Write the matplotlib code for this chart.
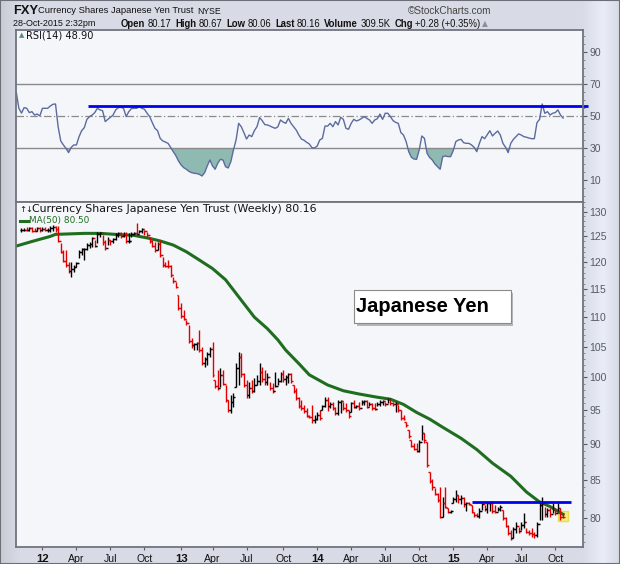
import matplotlib
matplotlib.use('Agg')
import matplotlib.pyplot as plt
import numpy as np
import pandas as pd
from matplotlib.collections import LineCollection
from matplotlib.patches import Rectangle
from matplotlib.lines import Line2D
from matplotlib.ticker import FixedLocator, NullFormatter

# ---------------- data ----------------
start_week = '2011-11-07'   # Monday of first weekly bar

opens = [126.3, 126.2, 126.3, 126.2, 126.6, 126.1, 126.0, 126.6, 126.2, 126.4,
         126.2, 126.3, 126.6, 126.8, 126.4, 124.0, 122.0, 120.3, 119.5, 118.3,
         118.8, 119.0, 119.8, 122.0, 122.5, 122.6, 123.4, 123.6, 124.6, 123.2,
         125.4, 125.6, 123.8, 122.8, 124.3, 124.1, 124.5, 125.3, 125.6, 125.0,
         125.4, 124.0, 124.1, 125.4, 125.6, 125.4, 126.1, 126.5, 126.0, 125.2,
         124.0, 123.2, 122.3, 123.5, 121.3, 119.4, 119.3, 119.2, 117.5, 116.4,
         113.9, 111.6, 110.2, 109.6, 108.9, 106.0, 105.2, 105.4, 105.6, 104.4,
         102.3, 102.9, 103.7, 104.6, 99.6, 98.6, 98.3, 100.3, 99.0, 96.5,
         95.0, 96.2, 98.5, 101.5, 103.3, 100.6, 98.8, 97.2, 98.3, 97.9,
         98.8, 99.5, 100.9, 99.7, 99.2, 100.0, 98.3, 97.8, 98.7, 99.5,
         100.5, 99.7, 100.0, 100.5, 98.8, 97.8, 96.8, 95.5, 95.2, 94.8,
         94.1, 93.9, 93.4, 93.6, 94.2, 95.0, 95.5, 96.5, 95.5, 95.9,
         95.3, 94.5, 96.2, 96.3, 95.2, 95.0, 94.7, 96.0, 95.4, 95.6,
         95.3, 96.1, 96.3, 95.4, 95.9, 95.3, 95.1, 95.9, 96.2, 96.4,
         95.8, 96.6, 96.0, 95.8, 95.9, 95.0, 93.7, 93.2, 92.0, 90.6,
         89.7, 89.3, 89.0, 90.2, 91.5, 90.3, 86.1, 84.9, 84.0, 83.2,
         82.3, 80.2, 82.0, 81.3, 80.8, 82.0, 82.5, 83.0, 82.5, 82.6,
         81.8, 81.9, 81.7, 80.8, 80.4, 80.3, 80.9, 81.8, 81.2, 81.9,
         82.0, 80.9, 80.8, 81.2, 81.1, 80.0, 79.0, 78.2, 77.6, 78.6,
         79.0, 78.4, 79.2, 79.5, 78.3, 78.1, 78.0, 77.9, 79.3, 81.7,
         81.9, 80.6, 81.0, 80.6, 81.2, 80.7, 81.3, 80.17]
highs = [126.7, 126.7, 126.8, 126.9, 126.9, 126.7, 126.9, 126.8, 126.8, 126.9,
         126.7, 127.0, 127.2, 127.0, 127.0, 123.7, 122.4, 122.4, 120.0, 120.0,
         119.5, 120.0, 122.4, 122.8, 122.8, 123.7, 123.9, 124.9, 124.3, 125.9,
         125.9, 125.3, 124.3, 124.9, 124.3, 124.7, 125.7, 125.9, 125.9, 125.9,
         125.9, 125.7, 125.9, 125.9, 127.7, 126.3, 126.7, 126.3, 125.9, 124.9,
         124.3, 123.9, 123.9, 124.3, 121.0, 120.0, 120.4, 119.5, 117.2, 116.3,
         113.9, 112.5, 111.3, 109.5, 108.7, 106.4, 105.6, 105.8, 107.8, 105.0,
         103.3, 104.1, 105.0, 105.8, 99.6, 101.2, 101.5, 101.2, 98.8, 96.5,
         97.3, 97.6, 102.3, 104.1, 103.9, 100.7, 99.6, 99.3, 99.6, 99.9,
         100.4, 102.3, 101.7, 101.2, 100.7, 99.3, 99.1, 100.9, 99.9, 100.9,
         101.1, 100.4, 100.7, 100.7, 98.8, 98.3, 97.0, 96.5, 95.7, 95.2,
         94.2, 95.7, 94.2, 94.7, 95.0, 95.7, 97.0, 97.0, 96.2, 96.2,
         95.4, 96.5, 96.5, 96.2, 96.0, 95.0, 96.2, 96.5, 95.7, 96.2,
         96.5, 96.5, 96.5, 96.2, 96.0, 96.0, 96.2, 96.5, 96.5, 96.2,
         96.8, 96.5, 96.2, 96.2, 95.7, 95.0, 94.2, 93.2, 92.0, 90.6,
         90.1, 90.1, 90.6, 92.8, 91.6, 90.3, 86.1, 85.2, 83.9, 83.3,
         84.0, 82.8, 84.0, 81.3, 81.0, 82.8, 83.7, 83.0, 83.0, 82.8,
         82.1, 82.1, 81.7, 80.8, 80.7, 81.3, 82.0, 81.7, 82.1, 82.1,
         82.0, 81.7, 81.5, 81.7, 81.1, 80.2, 79.2, 78.5, 78.9, 79.5,
         78.9, 79.5, 80.7, 78.8, 78.5, 78.8, 78.3, 79.5, 82.1, 82.8,
         81.5, 81.3, 81.3, 82.0, 81.3, 82.0, 81.3, 80.67]
lows = [125.9, 126.1, 126.1, 126.1, 125.9, 126.0, 126.1, 125.9, 126.0, 126.0,
        125.9, 125.8, 126.0, 125.8, 123.8, 121.8, 120.0, 119.1, 117.9, 117.2,
        118.1, 119.1, 120.8, 121.4, 120.4, 122.4, 122.8, 123.0, 123.0, 123.7,
        124.9, 123.3, 122.4, 123.3, 123.3, 123.7, 124.3, 124.9, 124.7, 124.9,
        123.7, 123.7, 124.9, 125.3, 125.3, 125.7, 125.7, 125.3, 124.9, 123.7,
        123.0, 122.0, 122.4, 121.0, 119.1, 119.1, 118.9, 117.2, 116.1, 115.2,
        111.3, 109.9, 109.5, 108.7, 105.6, 104.8, 104.4, 104.4, 104.1, 102.0,
        101.7, 102.0, 103.3, 100.1, 98.4, 98.0, 98.5, 98.8, 96.2, 94.7,
        94.5, 95.4, 98.5, 98.8, 100.1, 98.5, 96.8, 96.8, 97.6, 97.7,
        98.8, 98.8, 99.3, 98.8, 98.8, 98.0, 97.6, 98.5, 98.8, 99.3,
        99.3, 98.8, 99.1, 99.1, 97.6, 96.5, 95.2, 95.0, 94.5, 93.9,
        93.8, 93.1, 93.1, 93.5, 93.5, 95.0, 95.4, 94.8, 95.2, 95.0,
        94.2, 94.2, 94.5, 95.0, 94.7, 93.8, 94.7, 95.2, 95.2, 95.0,
        95.7, 95.7, 95.2, 95.5, 95.0, 95.0, 95.5, 95.5, 95.7, 95.6,
        96.0, 95.7, 95.6, 94.7, 94.7, 93.5, 93.5, 92.5, 90.9, 89.5,
        89.2, 88.8, 88.9, 90.6, 90.1, 86.8, 84.6, 83.7, 83.0, 82.1,
        80.0, 80.2, 81.3, 80.7, 80.7, 82.0, 82.1, 82.0, 81.8, 81.5,
        80.9, 81.7, 80.7, 80.2, 80.2, 80.0, 81.1, 80.9, 80.7, 80.9,
        80.7, 80.7, 80.9, 80.9, 79.8, 78.9, 77.9, 77.3, 77.5, 78.2,
        78.2, 78.5, 78.8, 78.2, 77.9, 77.7, 77.5, 77.7, 79.8, 79.8,
        80.2, 80.2, 80.2, 80.7, 80.4, 80.9, 79.8, 80.06]
closes = [126.2, 126.3, 126.2, 126.6, 126.1, 126.0, 126.6, 126.2, 126.4, 126.2,
          126.3, 126.6, 126.8, 126.4, 124.0, 122.0, 120.3, 119.5, 118.3, 118.8,
          119.0, 119.8, 122.0, 122.5, 122.6, 123.4, 123.6, 124.6, 123.2, 125.4,
          125.6, 123.8, 122.8, 124.3, 124.1, 124.5, 125.3, 125.6, 125.0, 125.4,
          124.0, 124.1, 125.4, 125.6, 125.4, 126.1, 126.5, 126.0, 125.2, 124.0,
          123.2, 122.3, 123.5, 121.3, 119.4, 119.3, 119.2, 117.5, 116.4, 115.4,
          111.6, 110.2, 109.6, 108.9, 106.0, 105.2, 105.4, 105.6, 104.4, 102.3,
          102.9, 103.7, 104.6, 100.4, 98.6, 98.3, 100.3, 99.0, 96.5, 95.0,
          96.2, 97.0, 101.5, 103.3, 100.6, 98.8, 97.2, 98.3, 97.9, 98.8,
          99.5, 100.9, 99.7, 99.2, 100.0, 98.3, 97.8, 98.7, 99.5, 100.5,
          99.7, 100.0, 100.5, 99.4, 97.8, 96.8, 95.5, 95.2, 94.8, 94.1,
          93.9, 93.4, 93.6, 94.2, 93.8, 95.5, 96.5, 95.5, 95.9, 95.3,
          94.5, 96.2, 96.3, 95.2, 95.0, 94.0, 96.0, 95.4, 95.6, 95.3,
          96.1, 96.3, 95.4, 95.9, 95.3, 95.1, 95.9, 96.2, 96.4, 95.8,
          96.6, 96.0, 95.8, 95.9, 95.0, 93.7, 93.6, 92.7, 91.1, 89.7,
          89.3, 89.0, 90.2, 91.5, 90.5, 87.0, 84.9, 84.0, 83.2, 82.3,
          80.2, 82.0, 81.5, 80.8, 80.9, 82.5, 83.0, 82.5, 82.6, 81.8,
          81.9, 81.8, 81.0, 80.4, 80.3, 80.9, 81.8, 81.2, 81.9, 82.0,
          80.9, 80.8, 81.2, 81.4, 80.0, 79.0, 78.2, 77.6, 78.6, 79.0,
          78.4, 79.2, 79.5, 78.3, 78.1, 78.0, 77.9, 79.3, 81.7, 81.9,
          80.6, 81.0, 80.6, 81.2, 80.7, 81.3, 80.2, 80.16]

# MA(50) read at selected weeks
ma_weeks = [-2, 4, 11, 13, 24, 30, 36, 43, 49, 53, 58, 63, 68, 73, 78, 83, 89, 94,
            98, 101, 106, 110, 117, 123, 129, 136, 141, 146, 151, 156, 161, 168,
            174, 180, 187, 193, 198, 202, 207]
ma_values = [123.1, 124.0, 125.0, 125.4, 125.6, 125.6, 125.4, 125.2, 124.6, 124.1,
             123.3, 122.0, 120.4, 118.8, 116.7, 113.6, 110.0, 108.0, 106.1, 104.4,
             102.2, 100.4, 98.8, 97.9, 97.4, 96.9, 96.6, 95.8, 94.6, 93.6, 92.4,
             90.8, 89.2, 87.3, 85.5, 83.4, 82.1, 81.5, 80.5]

# RSI(14) weekly, first value is two weeks before the first bar
rsi_first_week = -2
rsi_values = [65.0, 55.0,
    52.0, 55.4, 55.0, 52.3, 52.9, 50.8, 51.4, 50.2, 55.0, 55.0,
    55.0, 56.4, 57.5, 57.7, 43.5, 34.6, 32.1, 30.0, 27.3, 30.6,
    32.1, 32.1, 37.3, 41.0, 42.9, 48.1, 49.8, 50.8, 52.3, 55.0,
    54.0, 53.5, 46.7, 48.1, 49.4, 50.8, 54.0, 55.4, 55.6, 55.0,
    49.8, 52.9, 54.8, 55.0, 55.0, 56.0, 55.0, 54.4, 51.9, 49.8,
    46.0, 42.5, 41.0, 36.2, 34.6, 33.9, 33.1, 30.6, 27.9, 25.4,
    22.1, 19.6, 17.9, 16.9, 15.6, 14.8, 14.4, 14.2, 13.7, 12.7,
    14.8, 19.0, 22.7, 19.0, 16.9, 20.6, 23.1, 22.7, 18.5, 17.7,
    21.6, 28.9, 35.2, 45.6, 43.5, 39.8, 35.8, 38.3, 37.3, 41.0,
    43.5, 49.2, 47.3, 44.8, 44.6, 43.9, 43.1, 42.5, 43.5, 47.7,
    46.4, 45.6, 48.7, 45.6, 43.5, 41.4, 38.3, 35.8, 35.0, 33.7,
    32.7, 30.4, 30.2, 31.4, 35.2, 36.2, 43.9, 43.9, 45.6, 43.5,
    46.7, 44.6, 49.4, 48.1, 42.5, 41.9, 45.6, 48.1, 47.1, 47.7,
    48.7, 49.8, 48.7, 47.7, 45.6, 47.7, 48.5, 51.4, 48.1, 51.9,
    51.9, 49.8, 47.3, 46.2, 45.6, 39.8, 38.3, 34.2, 27.9, 24.4,
    23.3, 23.1, 28.9, 37.7, 36.2, 26.9, 24.2, 22.7, 20.2, 18.5,
    16.9, 24.8, 25.2, 24.8, 24.8, 28.5, 34.2, 35.2, 35.6, 33.5,
    33.1, 33.1, 32.1, 30.6, 27.9, 33.1, 37.3, 36.0, 38.5, 41.0,
    37.7, 39.4, 40.8, 38.3, 33.1, 30.6, 27.3, 33.1, 35.6, 37.3,
    39.0, 38.3, 37.3, 36.9, 36.4, 36.0, 36.0, 46.0, 48.1, 57.7,
    51.9, 52.9, 50.8, 51.9, 52.3, 54.0, 50.8, 48.9]

rsi_level = 56.5          # blue resistance line on RSI
rsi_level_from = 25.5
price_level = 82.1        # blue resistance line on price
price_level_from = 172

rsi_ticks = [10, 30, 50, 70, 90]
price_ticks = [80, 85, 90, 95, 100, 105, 110, 115, 120, 125, 130]
quarter_labels = ['12', 'Apr', 'Jul', 'Oct', '13', 'Apr', 'Jul', 'Oct',
                  '14', 'Apr', 'Jul', 'Oct', '15', 'Apr', 'Jul', 'Oct']

quote_pieces = [('Open', 'bold'), ('80.17', 'normal'), ('High', 'bold'), ('80.67', 'normal'),
                ('Low', 'bold'), ('80.06', 'normal'), ('Last', 'bold'), ('80.16', 'normal'),
                ('Volume', 'bold'), ('309.5K', 'normal'), ('Chg', 'bold'),
                ('+0.28 (+0.35%)', 'normal')]

# ---------------- figure ----------------
W, H = 620, 564
fig = plt.figure(figsize=(W / 100, H / 100), dpi=100)
fig.patch.set_facecolor('#d8dde6')
renderer = fig.canvas.get_renderer()

def fx(x):
    return x / W

def fy(y):
    return 1 - y / H

# background gradient
bg = fig.add_axes([0, 0, 1, 1], zorder=-10)
grad = np.linspace(0, 1, 256)
gx = np.interp(grad, [0, 0.03, 0.94, 0.975, 1.0], [0.80, 0.86, 0.86, 0.93, 0.86])
img = np.zeros((2, 256, 3))
img[..., 0] = gx[None, :] * 0.985
img[..., 1] = gx[None, :] * 1.0
img[..., 2] = gx[None, :] * 1.045
bg.imshow(np.clip(img, 0, 1), aspect='auto', extent=[0, 1, 0, 1])
bg.set_axis_off()
fig.add_artist(Rectangle((0, 0), 1, 1, transform=fig.transFigure, fill=False,
                         edgecolor='#6a6f78', lw=1.5))

panel_bg = '#f5f6fa'
spine_col = '#6f747d'
ax_r = fig.add_axes([fx(16), fy(201.5), fx(583) - fx(16), fy(29.5) - fy(201.5)])
ax_p = fig.add_axes([fx(16), fy(547.3), fx(583) - fx(16), fy(201.5) - fy(547.3)])

dates = pd.date_range(start_week, periods=len(closes), freq='W-MON')
n = len(closes)
xi = np.arange(n)
xmin, xmax = -2.1, 214.6

for ax in (ax_r, ax_p):
    ax.set_facecolor(panel_bg)
    ax.set_xlim(xmin, xmax)
    for s in ax.spines.values():
        s.set_color(spine_col)
        s.set_linewidth(1.3)
    ax.yaxis.tick_right()
    ax.tick_params(axis='y', which='major', direction='out', length=3, width=0.8,
                   colors='#555a63', labelsize=7.5, pad=1.5)
    ax.tick_params(axis='y', which='minor', direction='out', length=1.5, width=0.6,
                   colors='#777c85')

# ---------------- RSI panel ----------------
rx = np.arange(len(rsi_values)) + rsi_first_week
rv = np.array(rsi_values)
ax_r.set_ylim(-3.25, 104.25)
ax_r.axhline(70, color='#8a8a8a', lw=1.0)
ax_r.axhline(30, color='#8a8a8a', lw=1.0)
ax_r.axhline(50, color='#8a8a8a', lw=0.9, ls=(0, (6, 2, 1, 2)))
ax_r.fill_between(rx, rv, 30, where=rv < 30, interpolate=True,
                  color='#8fbab2', lw=0)
ax_r.plot(rx, rv, color='#5b6b9e', lw=1.0)
ax_r.plot([rsi_level_from, xmax + 2], [rsi_level, rsi_level], color='#0000ee',
          lw=2.0, clip_on=False, solid_capstyle='butt')
ax_r.yaxis.set_major_locator(FixedLocator(rsi_ticks))
ax_r.yaxis.set_minor_locator(FixedLocator(np.arange(0, 101, 5)))
ax_r.set_yticklabels([str(t) for t in rsi_ticks], family='Liberation Sans')
ax_r.set_xticks([])

fig.text(fx(26), fy(36), 'RSI(14) 48.90', fontsize=7.1, family='DejaVu Sans',
         va='center', ha='left', color='#111111')
fig.text(fx(18.5), fy(35.5), '\u25b2', fontsize=5, color='#5a8a88', va='center',
         ha='left')

# ---------------- price panel ----------------
ax_p.set_yscale('log')
ax_p.set_ylim(76.41, 132.1)
ax_p.yaxis.set_major_locator(FixedLocator(price_ticks))
ax_p.yaxis.set_minor_locator(FixedLocator(np.arange(77, 133, 1)))
ax_p.yaxis.set_minor_formatter(NullFormatter())
ax_p.set_yticklabels([str(t) for t in price_ticks], family='Liberation Sans')

# MA(50)
ax_p.plot(ma_weeks, ma_values, color='#1f6e1f', lw=2.2, solid_joinstyle='round',
          zorder=2)

# yellow highlight on last bar
ax_p.plot([xi[-1]], [closes[-1] + 0.1], marker='s', ms=6.5, color='#f4f07a',
          mec='#e6df50', zorder=1.5)

# OHLC bars
op = np.array(opens)
hi = np.array(highs)
lo = np.array(lows)
cl = np.array(closes)
prev = np.concatenate([[cl[0]], cl[:-1]])
cols = np.where(cl < prev, '#e10000', '#000000')
tick = 0.75
segs, segcols = [], []
for i in range(n):
    segs.append([(xi[i], lo[i]), (xi[i], hi[i])])
    segs.append([(xi[i] - tick, op[i]), (xi[i], op[i])])
    segs.append([(xi[i], cl[i]), (xi[i] + tick, cl[i])])
    segcols += [cols[i]] * 3
ax_p.add_collection(LineCollection(segs, colors=segcols, linewidths=1.0, zorder=3))

ax_p.plot([price_level_from, 210], [price_level, price_level], color='#0000ee',
          lw=2.0, solid_capstyle='butt', zorder=4)

# x ticks at first bar of each quarter
tick_pos = []
for q, d in enumerate(dates):
    if d.month in (1, 4, 7, 10) and (q == 0 or dates[q - 1].month != d.month):
        tick_pos.append(q)
tick_pos = tick_pos[:len(quarter_labels)]
ax_p.set_xticks(tick_pos)
ax_p.set_xticklabels(quarter_labels)
ax_p.tick_params(axis='x', direction='out', length=2.5, width=0.8, colors='#555a63',
                 labelsize=7.6, pad=2.0)
for lab in ax_p.get_xticklabels():
    lab.set_family('Liberation Sans')
    lab.set_color('#111111')
    if lab.get_text().isdigit():
        lab.set_fontweight('bold')
        lab.set_fontsize(8.2)

# price panel legend
fig.text(fx(19), fy(209.5), '\u2191\u2193', fontsize=6.0, family='DejaVu Sans',
         va='center', ha='left', color='#111111')
fig.text(fx(32), fy(209.5), 'Currency Shares Japanese Yen Trust (Weekly) 80.16',
         fontsize=7.95, family='DejaVu Sans', va='center', ha='left', color='#111111')
fig.text(fx(29.5), fy(220.5), 'MA(50) 80.50', fontsize=6.4, family='DejaVu Sans',
         va='center', ha='left', color='#1f6e1f')
fig.add_artist(Line2D([fx(20), fx(28)], [fy(220.5), fy(220.5)], color='#1f6e1f',
                      lw=2.2, transform=fig.transFigure))

# Japanese Yen annotation box
fig.add_artist(Rectangle((fx(356.5), fy(325.5)), fx(510.7) - fx(354), fy(290) - fy(322.7),
                         transform=fig.transFigure, facecolor='#b4b6bb', edgecolor='none'))
fig.add_artist(Rectangle((fx(354), fy(322.7)), fx(510.7) - fx(354), fy(290) - fy(322.7),
                         transform=fig.transFigure, facecolor='white', edgecolor='#8a8a8a',
                         lw=0.8))
fig.text(fx(356), fy(307), 'Japanese Yen', fontsize=14.5, fontweight='bold',
         family='Liberation Sans', va='center', ha='left', color='black')

# ---------------- header ----------------
def htext(x, y, s, size=7.0, weight='normal', color='#111111', family='Liberation Sans',
          ha='left'):
    return fig.text(fx(x), fy(y), s, fontsize=size, fontweight=weight, color=color,
                    family=family, va='center', ha=ha)

htext(13, 10.5, 'FXY', size=9.3, weight='bold')
htext(38, 10.5, 'Currency Shares Japanese Yen Trust', size=6.75)
htext(197.5, 11, 'NYSE', size=6.2)
htext(491, 11, '\u00a9StockCharts.com', size=7.2, color='#444444', ha='right')
htext(13, 24, '28-Oct-2015 2:32pm', size=6.5)

# quote line laid out piece by piece
xcur = 121.0
for txt, wt in quote_pieces:
    t = htext(xcur, 24, txt, size=6.85, weight=wt)
    bb = t.get_window_extent(renderer=renderer)
    xcur += bb.width + (2.2 if wt == 'bold' else 4.0)
htext(xcur - 2.5, 24, '\u25b2', size=5.5, color='#8a8f98', family='DejaVu Sans')

fig.savefig('out.png', dpi=100, facecolor=fig.get_facecolor())
